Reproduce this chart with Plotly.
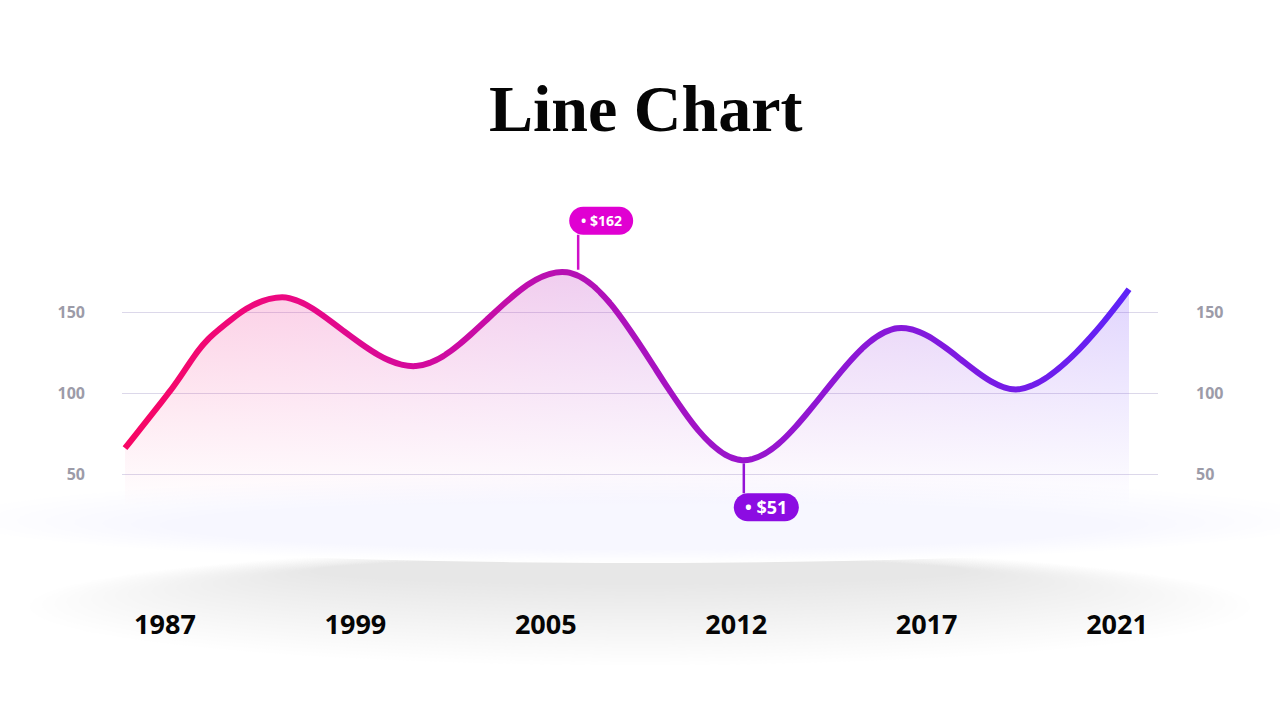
import plotly.graph_objects as go

W, H = 1280, 720

# ---------------- data ----------------
years = ["1987", "1999", "2005", "2012", "2017", "2021"]
year_pos = [0, 1, 2, 3, 4, 5]
curve_x = [-0.21, 0.026, 0.26, 0.615, 1.313, 2.11, 3.03, 3.845, 4.49, 5.063]
curve_y = [66.2, 101.4, 137.2, 159.4, 116.9, 174.9, 58.8, 140.3, 102.7, 164.4]
y_ticks = [50, 100, 150]
callout_x = [2.17, 3.04]
callout_y = [174.6, 58.7]
callout_text = ["$162", "$51"]

# ---------------- geometry / style ----------------
PL, PR, PT, PB = 122, 1158, 180, 560          # plot area in pixels
X0, X1 = -0.2258, 5.2153                       # x range over plot area
Y0, Y1 = -2.9, 231.9                           # y range over plot area
N_SLICES = 74                                  # 14 px per slice

grad = [(0.0, (247, 6, 100)), (0.156, (236, 8, 130)), (0.29, (212, 10, 156)),
        (0.44, (182, 16, 180)), (0.61, (154, 20, 204)), (0.77, (134, 24, 218)),
        (0.89, (116, 28, 232)), (1.0, (94, 34, 248))]


def grad_color(t):
    t = min(max(t, 0.0), 1.0)
    for (a, ca), (b, cb) in zip(grad[:-1], grad[1:]):
        if a <= t <= b:
            f = (t - a) / (b - a) if b > a else 0
            return tuple(int(round(ca[i] + (cb[i] - ca[i]) * f)) for i in range(3))
    return grad[-1][1]


def px2paper_x(px):
    return px / W


def px2paper_y(py):
    return 1 - py / H


fig = go.Figure()

dom_x = [px2paper_x(PL), px2paper_x(PR)]
dom_y = [px2paper_y(PB), px2paper_y(PT)]

layout_axes = {}
slice_w = (PR - PL) / N_SLICES
line_start_px, line_end_px = 125, 1130
for k in range(N_SLICES):
    p0 = PL + k * slice_w
    p1 = p0 + slice_w
    r0 = X0 + (X1 - X0) * (p0 - PL) / (PR - PL)
    r1 = X0 + (X1 - X0) * (p1 - PL) / (PR - PL)
    name = f"x{k + 2}"
    layout_axes[f"xaxis{k + 2}"] = dict(domain=[p0 / W, p1 / W], range=[r0, r1], anchor="y",
                                        visible=False, fixedrange=True)
    t = ((p0 + p1) / 2 - line_start_px) / (line_end_px - line_start_px)
    c = grad_color(t)
    fig.add_trace(go.Scatter(
        x=curve_x, y=curve_y, xaxis=name, yaxis="y", mode="lines",
        line=dict(color=f"rgb{c}", width=6, shape="spline", smoothing=1.0),
        fill="tozeroy",
        fillgradient=dict(type="vertical", start=30, stop=170,
                          colorscale=[[0, f"rgba({c[0]},{c[1]},{c[2]},0)"],
                                      [1, f"rgba({c[0]},{c[1]},{c[2]},0.2)"]]),
        hoverinfo="skip", showlegend=False))

# invisible trace to hold main axes / right axis
fig.add_trace(go.Scatter(x=[X0], y=[Y0], mode="markers", marker=dict(opacity=0),
                         xaxis="x", yaxis="y2", hoverinfo="skip", showlegend=False))

tick_font = dict(family="Open Sans", size=16, color="#9c9ba8", weight=700)

fig.update_layout(
    width=W, height=H,
    margin=dict(l=0, r=0, t=0, b=0),
    paper_bgcolor="white", plot_bgcolor="rgba(0,0,0,0)",
    showlegend=False,
    xaxis=dict(domain=dom_x, range=[X0, X1], anchor="y", tickvals=year_pos, ticktext=years,
               showgrid=False, zeroline=False, showline=False, ticks="",
               tickfont=dict(family="Open Sans", size=27, color="#050505", weight=700),
               ticklabelstandoff=46, fixedrange=True),
    yaxis=dict(domain=dom_y, range=[Y0, Y1], anchor="x", tickvals=y_ticks,
               showgrid=True, gridcolor="#dcd8ea", gridwidth=1, zeroline=False,
               showline=False, ticks="", tickfont=tick_font, ticklabelstandoff=36,
               fixedrange=True),
    yaxis2=dict(overlaying="y", side="right", anchor="x", range=[Y0, Y1], tickvals=y_ticks,
                showgrid=False, zeroline=False, showline=False, ticks="",
                tickfont=tick_font, ticklabelstandoff=37, fixedrange=True),
    **layout_axes,
)

shapes = []

# soft shadow under the "platform"
n_sh = 24
for i in range(n_sh):
    f = i / (n_sh - 1)
    x0 = 30 + f * 280
    x1 = 1250 - f * 280
    y0 = 548 + f * 10
    y1 = 665 - f * 80
    shapes.append(dict(type="circle", xref="paper", yref="paper", layer="below",
                       x0=px2paper_x(x0), x1=px2paper_x(x1),
                       y0=px2paper_y(y1), y1=px2paper_y(y0),
                       fillcolor="rgb(206,209,220)", opacity=0.022, line=dict(width=0)))
# platform
shapes.append(dict(type="circle", xref="paper", yref="paper", layer="below",
                   x0=px2paper_x(-60), x1=px2paper_x(1340),
                   y0=px2paper_y(563), y1=px2paper_y(470),
                   fillcolor="white", line=dict(width=0)))
for i in range(8):
    f = i / 7
    shapes.append(dict(type="circle", xref="paper", yref="paper", layer="below",
                       x0=px2paper_x(-40 + f * 200), x1=px2paper_x(1320 - f * 200),
                       y0=px2paper_y(562 - f * 12), y1=px2paper_y(476 + f * 24),
                       fillcolor="rgb(240,239,250)", opacity=0.045, line=dict(width=0)))

# callouts
pill_style = [
    dict(x0=-9, x1=55, y0=38, y1=66, ly0=3, ly1=38, fill="#e000d2", stem="#cf10c8", size=14),
    dict(x0=-10, x1=55, y0=-61, y1=-33, ly0=-3, ly1=-33, fill="#8c0ce2", stem="#9412d6", size=18),
]


def pill_path(x0, x1, y0, y1):
    r = (y1 - y0) / 2
    k = 0.5523 * r
    return (f"M{x0 + r},{y0} L{x1 - r},{y0} "
            f"C{x1 - r + k},{y0} {x1},{y0 + r - k} {x1},{y0 + r} "
            f"C{x1},{y0 + r + k} {x1 - r + k},{y1} {x1 - r},{y1} "
            f"L{x0 + r},{y1} "
            f"C{x0 + r - k},{y1} {x0},{y0 + r + k} {x0},{y0 + r} "
            f"C{x0},{y0 + r - k} {x0 + r - k},{y0} {x0 + r},{y0} Z")


annotations = []
for cx, cy, txt, st in zip(callout_x, callout_y, callout_text, pill_style):
    shapes.append(dict(type="line", xref="x", yref="y", xsizemode="pixel", ysizemode="pixel",
                       xanchor=cx, yanchor=cy, x0=0, x1=0, y0=st["ly0"], y1=st["ly1"],
                       line=dict(color=st["stem"], width=2.5), layer="above"))
    shapes.append(dict(type="path", xref="x", yref="y", xsizemode="pixel", ysizemode="pixel",
                       xanchor=cx, yanchor=cy,
                       path=pill_path(st["x0"], st["x1"], st["y0"], st["y1"]),
                       fillcolor=st["fill"], line=dict(width=0), layer="above"))
    annotations.append(dict(xref="x", yref="y", x=cx, y=cy, showarrow=False,
                            xshift=(st["x0"] + st["x1"]) / 2, yshift=(st["y0"] + st["y1"]) / 2,
                            text=f"• {txt}",
                            font=dict(family="Open Sans", size=st["size"], color="white", weight=700)))

annotations.append(dict(xref="paper", yref="paper", x=px2paper_x(646), y=px2paper_y(108),
                        xanchor="center", yanchor="middle", showarrow=False, text="Line Chart",
                        font=dict(family="Liberation Serif", size=66, color="#050505", weight=700)))

fig.update_layout(shapes=shapes, annotations=annotations)

fig.write_html("out.html", config={"displayModeBar": False},
               post_script="document.body.style.margin='0';")
